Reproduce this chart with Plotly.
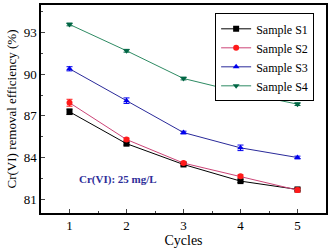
import plotly.graph_objects as go

cycles = [1, 2, 3, 4, 5]
s1 = [87.3, 85.0, 83.5, 82.3, 81.7]
s2 = [87.95, 85.3, 83.6, 82.65, 81.65]
s3 = [90.4, 88.1, 85.8, 84.7, 84.0]
s4 = [93.6, 91.7, 89.7, 88.7, 87.85]
s1_err = [0.2, 0.1, 0.1, 0.1, 0.1]
s2_err = [0.25, 0.1, 0.1, 0.1, 0.15]
s3_err = [0.15, 0.2, 0.1, 0.2, 0.1]
s4_err = [0.1, 0.1, 0.1, 0.1, 0.1]
names = ["Sample S1", "Sample S2", "Sample S3", "Sample S4"]
yticks = [81, 84, 87, 90, 93]

series = [
    (s1, s1_err, "#000000", "#000000", "square"),
    (s2, s2_err, "#cc4477", "#ff1a1a", "circle"),
    (s3, s3_err, "#2a2a9a", "#0000ee", "triangle-up"),
    (s4, s4_err, "#2e8b63", "#006644", "triangle-down"),
]

fig = go.Figure()
for (vals, err, lc, mc, sym), nm in zip(series, names):
    fig.add_trace(go.Scatter(
        x=cycles, y=vals, name=nm, mode="lines+markers",
        line=dict(color=lc, width=1),
        marker=dict(color=mc, symbol=sym, size=6),
        error_y=dict(type="data", array=err, color=mc, thickness=1, width=3),
    ))

font = "Liberation Serif"
fig.update_layout(
    width=331, height=249,
    margin=dict(l=41, r=4, t=3, b=36),
    paper_bgcolor="white", plot_bgcolor="white",
    font=dict(family=font, size=13, color="black"),
    showlegend=True,
    legend=dict(x=0.611, y=0.96, xanchor="left", yanchor="top",
                bordercolor="black", borderwidth=1, bgcolor="white",
                font=dict(size=12, family=font), tracegroupgap=0,
                itemwidth=30),
    annotations=[dict(text="<b>Cr(VI): 25 mg/L</b>", x=0.125, y=0.16,
                      xref="paper", yref="paper", xanchor="left", yanchor="middle",
                      showarrow=False, font=dict(size=11, color="#2e2e99", family=font))],
)
fig.update_xaxes(
    range=[0.5, 5.5], tickvals=cycles, ticks="inside", ticklen=4,
    showline=True, linecolor="black", linewidth=1.5, mirror=True,
    showgrid=False, zeroline=False,
    minor=dict(dtick=0.5, tick0=0.5, ticks="inside", ticklen=2, showgrid=False),
    title=dict(text="Cycles", font=dict(size=14), standoff=2),
)
fig.update_yaxes(
    range=[80, 95], tickvals=yticks, ticks="inside", ticklen=4,
    showline=True, linecolor="black", linewidth=1.5, mirror=True,
    showgrid=False, zeroline=False,
    minor=dict(dtick=1.5, tick0=81, ticks="inside", ticklen=2, showgrid=False),
    title=dict(text="Cr(VI) removal efficiency (%)", font=dict(size=13), standoff=4),
)
fig.write_html("out.html", config={"displayModeBar": False},
               post_script="document.body.style.margin='0';")
